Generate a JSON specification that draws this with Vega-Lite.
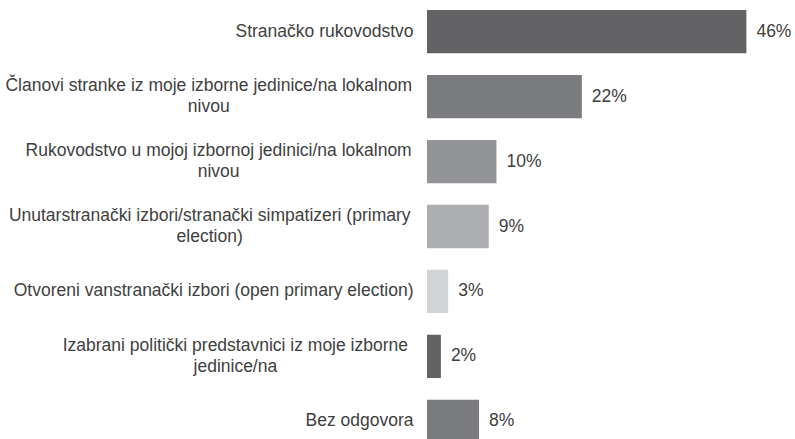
{
  "$schema": "https://vega.github.io/schema/vega-lite/v6.json",
  "width": 368,
  "height": 453,
  "autosize": {"type": "none"},
  "padding": {"left": 427, "top": 0, "right": 0, "bottom": 0},
  "background": "white",
  "config": {"view": {"stroke": null}, "font": "Liberation Sans"},
  "data": {
    "values": [
      {"item": "Stranačko rukovodstvo", "value": 46, "pct": "46%"},
      {"item": "Članovi stranke iz moje izborne jedinice/na lokalnom|nivou", "value": 22.3, "pct": "22%"},
      {"item": "Rukovodstvo u mojoj izbornoj jedinici/na lokalnom|nivou", "value": 10, "pct": "10%"},
      {"item": "Unutarstranački izbori/stranački simpatizeri (primary|election)", "value": 8.9, "pct": "9%"},
      {"item": "Otvoreni vanstranački izbori (open primary election)", "value": 3.05, "pct": "3%"},
      {"item": "Izabrani politički predstavnici iz moje izborne|jedinice/na", "value": 2, "pct": "2%"},
      {"item": "Bez odgovora", "value": 7.5, "pct": "8%"}
    ]
  },
  "encoding": {
    "y": {
      "field": "item",
      "type": "nominal",
      "sort": null,
      "scale": {"paddingInner": 0.333, "paddingOuter": 0.154},
      "axis": {
        "title": null,
        "domain": false,
        "ticks": false,
        "tickSize": 0,
        "labelFontSize": 17.5,
        "labelColor": "#404040",
        "labelFont": "Liberation Sans",
        "labelLimit": 0,
        "labelLineHeight": 21,
        "labelBaseline": "middle",
        "labelExpr": "split(datum.label, '|')",
        "labelAlign": {"condition": {"test": "indexof(datum.value,'|')>0", "value": "center"}, "value": "right"},
        "labelPadding": {"expr": "indexof(datum.value,'|')>0 ? 14 + 0.5*(10.0*length(slice(datum.value,0,indexof(datum.value,'|'))) - 5.7*(length(slice(datum.value,0,indexof(datum.value,'|'))) - length(replace(slice(datum.value,0,indexof(datum.value,'|')), regexp('[ijlI/ ]','g'), ''))) - 4.5*(length(slice(datum.value,0,indexof(datum.value,'|'))) - length(replace(slice(datum.value,0,indexof(datum.value,'|')), regexp('[tfr()]','g'), '')))) : 14"},
        "labelOffset": {"condition": {"test": "indexof(datum.value,'|')>0", "value": -10.5}, "value": 0}
      }
    },
    "x": {"field": "value", "type": "quantitative", "scale": {"domain": [0, 53], "nice": false, "zero": true}, "axis": null}
  },
  "layer": [
    {
      "mark": {"type": "bar"},
      "encoding": {
        "color": {
          "field": "item",
          "type": "nominal",
          "sort": null,
          "scale": {"range": ["#636365", "#7a7b7f", "#939497", "#adaeb2", "#d3d4d6", "#636365", "#7a7b7f"]},
          "legend": null
        }
      }
    },
    {
      "mark": {"type": "text", "align": "left", "baseline": "middle", "dx": 10, "fontSize": 17.5, "color": "#404040", "font": "Liberation Sans"},
      "encoding": {
        "text": {"field": "pct"}
      }
    }
  ]
}
